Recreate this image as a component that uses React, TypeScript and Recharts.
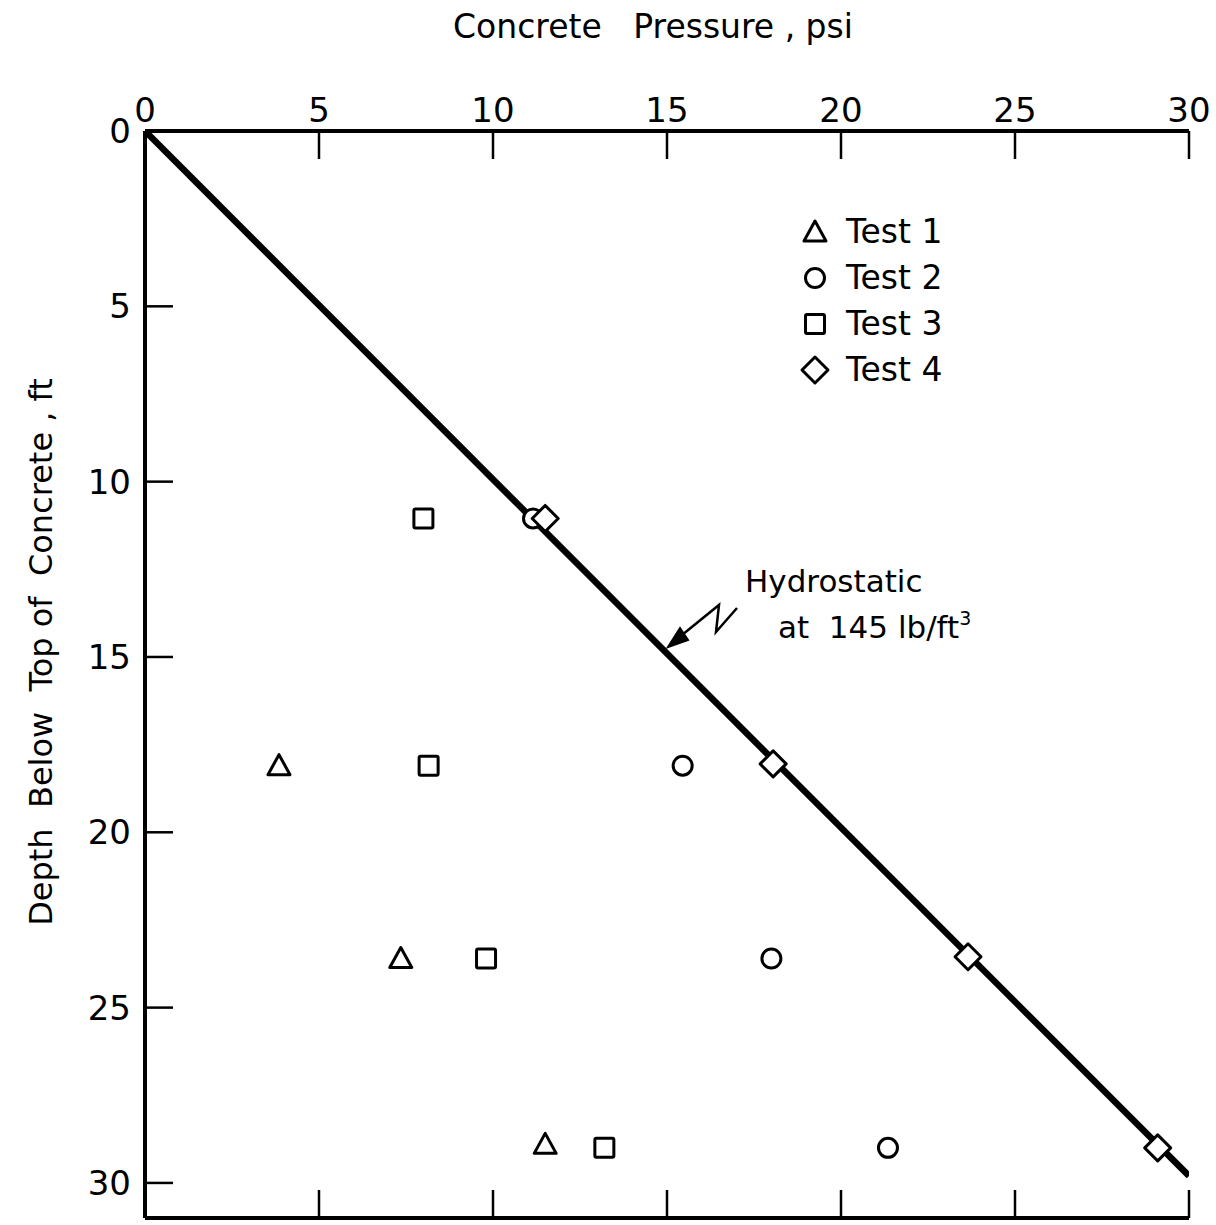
import { ScatterChart, Scatter, XAxis, YAxis, Customized } from 'recharts';

// values: pressure (psi) vs depth below top of concrete (ft)
const test1Pressure = [3.85, 7.35, 11.5];
const test1Depth = [18.1, 23.6, 28.9];
const test2Pressure = [11.15, 15.45, 18.0, 21.35];
const test2Depth = [11.05, 18.1, 23.6, 29.0];
const test3Pressure = [8.0, 8.15, 9.8, 13.2];
const test3Depth = [11.05, 18.1, 23.6, 29.0];
const test4Pressure = [11.5, 18.05, 23.65, 29.1];
const test4Depth = [11.05, 18.05, 23.55, 29.0];

// hydrostatic at 145 lb/ft3 -> 1.007 psi per ft
const hydroPressure = [0, 30];
const hydroDepth = [0, 29.8];

const pressureTicks = [0, 5, 10, 15, 20, 25, 30];
const depthTicks = [0, 5, 10, 15, 20, 25, 30];
const legendNames = ['Test 1', 'Test 2', 'Test 3', 'Test 4'];

const FONT = '"DejaVu Sans", sans-serif';

const zip = (xs: number[], ys: number[]) => xs.map((p, i) => ({ p, d: ys[i] }));

const test1 = zip(test1Pressure, test1Depth);
const test2 = zip(test2Pressure, test2Depth);
const test3 = zip(test3Pressure, test3Depth);
const test4 = zip(test4Pressure, test4Depth);
const hydro = zip(hydroPressure, hydroDepth);

const MARK = { fill: '#fff', stroke: '#000', strokeWidth: 3 };

const Triangle = ({ cx, cy }: any) => (
  <path d={`M${cx},${cy - 11} L${cx + 11},${cy + 9} L${cx - 11},${cy + 9} Z`} {...MARK} strokeLinejoin="round" />
);
const Circle = ({ cx, cy }: any) => <circle cx={cx} cy={cy} r={9.5} {...MARK} />;
const Square = ({ cx, cy }: any) => <rect x={cx - 9.5} y={cy - 9.5} width={19} height={19} rx={1.5} {...MARK} />;
const Diamond = ({ cx, cy }: any) => (
  <path d={`M${cx},${cy - 13} L${cx + 13},${cy} L${cx},${cy + 13} L${cx - 13},${cy} Z`} {...MARK} strokeLinejoin="round" />
);

const TopTick = ({ x, y, payload }: any) => (
  <g>
    <line x1={x} y1={y} x2={x} y2={y + 28} stroke="#000" strokeWidth={2.5} />
    <text x={x} y={y - 9} textAnchor="middle" fontFamily={FONT} fontSize={34} fill="#000">
      {payload.value}
    </text>
  </g>
);

const BottomTick = ({ x, y, payload }: any) =>
  payload.value === 0 ? <g /> : <line x1={x} y1={y} x2={x} y2={y - 28} stroke="#000" strokeWidth={2.5} />;

const LeftTick = ({ x, y, payload }: any) => (
  <g>
    <line x1={x} y1={y} x2={x + 28} y2={y} stroke="#000" strokeWidth={2.5} />
    <text x={x - 14} y={y + 12} textAnchor="end" fontFamily={FONT} fontSize={34} fill="#000">
      {payload.value}
    </text>
  </g>
);

const legendIcons = [Triangle, Circle, Square, Diamond];

const LegendBox = () => (
  <div
    style={{
      position: 'absolute',
      left: 798,
      top: 209,
      fontFamily: FONT,
      fontSize: 33,
      lineHeight: '46px',
      color: '#000',
    }}
  >
    {legendNames.map((name, i) => {
      const Icon = legendIcons[i];
      return (
        <div key={name} style={{ display: 'flex', alignItems: 'center' }}>
          <svg width={34} height={34} style={{ marginRight: 14 }}>
            <Icon cx={17} cy={17} />
          </svg>
          <span>{name}</span>
        </div>
      );
    })}
  </div>
);

const Notes = () => (
  <g fontFamily={FONT} fill="#000">
    <text x={653} y={38} textAnchor="middle" fontSize={33} xmlSpace="preserve">
      {'Concrete   Pressure , psi'}
    </text>
    <text transform="translate(52,652) rotate(-90)" textAnchor="middle" fontSize={32} xmlSpace="preserve">
      {'Depth  Below  Top of  Concrete , ft'}
    </text>
    <text x={745} y={592} fontSize={31}>Hydrostatic</text>
    <text x={778} y={638} fontSize={31} xmlSpace="preserve">
      {'at  145 lb/ft'}
      <tspan fontSize={19} dy={-13}>3</tspan>
    </text>
    <path d="M737,608 L716,632 L719,605 L682,635" fill="none" stroke="#000" strokeWidth={2.5} />
    <path d="M668,647 L680,628 L688,640 Z" fill="#000" stroke="#000" strokeWidth={2} />
  </g>
);

export default function App() {
  return (
    <div style={{ position: 'absolute', left: 0, top: 0, width: 1216, height: 1225, background: '#fff' }}>
      <ScatterChart width={1216} height={1225} margin={{ top: 130, right: 27, bottom: 6, left: 144 }}>
        <XAxis
          xAxisId="top"
          type="number"
          dataKey="p"
          orientation="top"
          domain={[0, 30]}
          ticks={pressureTicks}
          interval={0}
          height={1}
          tickSize={0}
          tickMargin={0}
          tick={<TopTick />}
          axisLine={{ stroke: '#000', strokeWidth: 4 }}
          tickLine={false}
          allowDataOverflow
        />
        <XAxis
          xAxisId="bottom"
          type="number"
          dataKey="p"
          orientation="bottom"
          domain={[0, 30]}
          ticks={pressureTicks}
          interval={0}
          height={1}
          tickSize={0}
          tickMargin={0}
          tick={<BottomTick />}
          axisLine={{ stroke: '#000', strokeWidth: 4 }}
          tickLine={false}
          allowDataOverflow
        />
        <YAxis
          yAxisId="left"
          type="number"
          dataKey="d"
          reversed
          domain={[0, 31]}
          ticks={depthTicks}
          interval={0}
          width={1}
          tickSize={0}
          tickMargin={0}
          tick={<LeftTick />}
          axisLine={{ stroke: '#000', strokeWidth: 4 }}
          tickLine={false}
          allowDataOverflow
        />
        <Scatter
          xAxisId="bottom"
          yAxisId="left"
          data={hydro}
          line={{ stroke: '#000', strokeWidth: 6.5 }}
          shape={() => <g />}
          isAnimationActive={false}
          legendType="none"
        />
        <Scatter xAxisId="top" yAxisId="left" name="Test 1" data={test1} shape={<Triangle />} isAnimationActive={false} />
        <Scatter xAxisId="top" yAxisId="left" name="Test 2" data={test2} shape={<Circle />} isAnimationActive={false} />
        <Scatter xAxisId="top" yAxisId="left" name="Test 3" data={test3} shape={<Square />} isAnimationActive={false} />
        <Scatter xAxisId="top" yAxisId="left" name="Test 4" data={test4} shape={<Diamond />} isAnimationActive={false} />
        <Customized component={<Notes />} />
      </ScatterChart>
      <LegendBox />
    </div>
  );
}
